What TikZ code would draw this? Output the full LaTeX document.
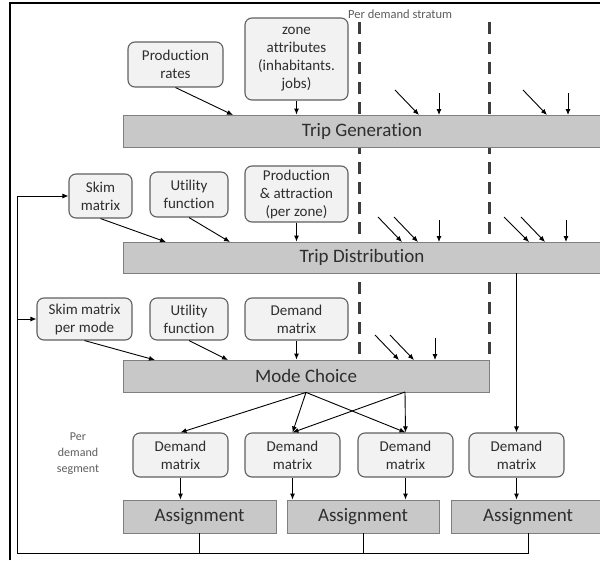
\documentclass[tikz,border=0pt]{standalone}
\usepackage{fontspec}
\setmainfont{Carlito}[Ligatures=NoCommon]
\usetikzlibrary{arrows.meta}
\definecolor{boxfill}{HTML}{F2F2F2}
\definecolor{boxdraw}{HTML}{606060}
\definecolor{barfill}{HTML}{C8C8C8}
\definecolor{bardraw}{HTML}{7F7F7F}
\definecolor{txt}{HTML}{2E2E2E}
\definecolor{lbl}{HTML}{5E5E5E}
\definecolor{dashc}{HTML}{3C3C3C}
\begin{document}
\begin{tikzpicture}[x=1pt,y=-1pt,
  inbox/.style={draw=boxdraw, fill=boxfill, line width=1.1pt, rounded corners=7pt,
    align=center, inner sep=0pt, text=txt, font=\fontsize{15}{18}\selectfont},
  bar/.style={draw=bardraw, fill=barfill, line width=0.8pt, inner sep=0pt,
    text=txt, font=\fontsize{19}{22}\selectfont},
  arr/.style={-{Latex[length=6pt,width=5pt]}, line width=0.9pt, black},
  link/.style={line width=0.9pt, black},
  stratum/.style={line width=3pt, dashc, dash pattern=on 12pt off 8pt},
  note/.style={text=lbl, align=center, inner sep=0pt}
]
\useasboundingbox (0,0) rectangle (600,560);
\fill[white] (0,0) rectangle (600,560);
% frame
\draw[line width=2pt, black] (10,560) -- (10,3) -- (601,3);

% stratum dashed lines
\draw[stratum] (359,22) -- (359,358);
\draw[stratum] (489,22) -- (489,358);
\node[note, anchor=west, font=\fontsize{12.5}{14}\selectfont] (pds) at (348,14) {Per demand stratum};

% input boxes
\node[inbox, minimum width=95pt, minimum height=45pt] (pr) at (175.5,64.5) {Production\\rates};
\node[inbox, minimum width=103pt, minimum height=82pt] (za) at (296.5,59) {zone\\attributes\\(inhabitants.\\jobs)};
\node[inbox, minimum width=63pt, minimum height=44pt] (sk) at (100.5,196) {Skim\\matrix};
\node[inbox, minimum width=78pt, minimum height=45pt] (uf1) at (189,194.5) {Utility\\function};
\node[inbox, minimum width=103pt, minimum height=56pt] (pa) at (296.5,194) {Production\\\& attraction\\(per zone)};
\node[inbox, minimum width=95pt, minimum height=42pt] (skm) at (84.5,319) {Skim matrix\\per mode};
\node[inbox, minimum width=78pt, minimum height=42pt] (uf2) at (189,319) {Utility\\function};
\node[inbox, minimum width=103pt, minimum height=42pt] (dm0) at (296.5,319) {Demand\\matrix};

% bars
\node[bar, minimum width=478pt, minimum height=32pt] (tg) at (362,131) {};
\node[txt, font=\fontsize{19}{22}\selectfont] (tgl) at (362,131) {Trip Generation};
\node[bar, minimum width=478pt, minimum height=31pt] (td) at (362,257.5) {};
\node[txt, font=\fontsize{19}{22}\selectfont] (tdl) at (362,257.5) {Trip Distribution};
\node[bar, minimum width=366pt, minimum height=32pt] (mc) at (306,376) {Mode Choice};

% demand matrices
\node[inbox, minimum width=95pt, minimum height=44pt] (d1) at (180.5,455) {Demand\\matrix};
\node[inbox, minimum width=95pt, minimum height=44pt] (d2) at (292.5,455) {Demand\\matrix};
\node[inbox, minimum width=95pt, minimum height=44pt] (d3) at (405.5,455) {Demand\\matrix};
\node[inbox, minimum width=95pt, minimum height=44pt] (d4) at (516.5,455) {Demand\\matrix};
\node[note, font=\fontsize{12}{16}\selectfont] (pdseg) at (78,454) {Per\\demand\\segment};

% assignments
\node[bar, minimum width=153pt, minimum height=33pt] (a1) at (199.5,516.5) {Assignment};
\node[bar, minimum width=152pt, minimum height=33pt] (a2) at (363,516.5) {Assignment};
\node[bar, minimum width=154pt, minimum height=33pt] (a3) at (528,516.5) {Assignment};

% coordinates for free ends
\coordinate (tgA) at (233,115);
\coordinate (tdA) at (166,242);
\coordinate (tdB) at (230,242);
\coordinate (mcA) at (155,360);
\coordinate (mcB) at (228,360);
\coordinate (mcR) at (405,392);
\coordinate (fbB) at (17,553);

% inputs to trip generation
\draw[arr] (pr.south) -- (tgA);
\draw[arr] (za.south) -- (za.south |- tg.north);
\draw[arr] (395,90) -- (419,115);
\draw[arr] (439,93) -- (439,115);
\draw[arr] (523,90) -- (547,115);
\draw[arr] (568,93) -- (568,115);

% inputs to trip distribution
\draw[arr] (sk.south) -- (tdA);
\draw[arr] (uf1.south) -- (tdB);
\draw[arr] (pa.south) -- (pa.south |- td.north);
\draw[arr] (378,217) -- (402,242);
\draw[arr] (394,217) -- (418,242);
\draw[arr] (439,220) -- (439,242);
\draw[arr] (504,217) -- (529,242);
\draw[arr] (521,217) -- (545,242);
\draw[arr] (566,220) -- (566,242);

% inputs to mode choice
\draw[arr] (skm.south) -- (mcA);
\draw[arr] (uf2.south) -- (mcB);
\draw[arr] (dm0.south) -- (dm0.south |- mc.north);
\draw[arr] (375,335) -- (399,360);
\draw[arr] (390,335) -- (414,360);
\draw[arr] (435,338) -- (435,360);

% mode choice outputs
\draw[arr] (mc.south) -- (d1.north);
\draw[arr] (mc.south) -- (d2.north);
\draw[arr] (mc.south) -- (d3.north);
\draw[arr] (mcR) -- (d2.north);
\draw[arr] (mcR) -- (d3.north);
\draw[arr] (d4.north |- td.south) -- (d4.north);

% demand to assignment
\draw[arr] (d1.south) -- (d1.south |- a1.north);
\draw[arr] (d2.south) -- (d2.south |- a2.north);
\draw[arr] (d3.south) -- (d3.south |- a2.north);
\draw[arr] (d4.south) -- (d4.south |- a3.north);

% feedback
\draw[link] (a1.south) -- (a1.south |- fbB);
\draw[link] (a2.south) -- (a2.south |- fbB);
\draw[arr] (a3.south) |- (fbB) |- (sk.west);
\draw[arr] (fbB |- skm.west) -- (skm.west);
\end{tikzpicture}
\end{document}
